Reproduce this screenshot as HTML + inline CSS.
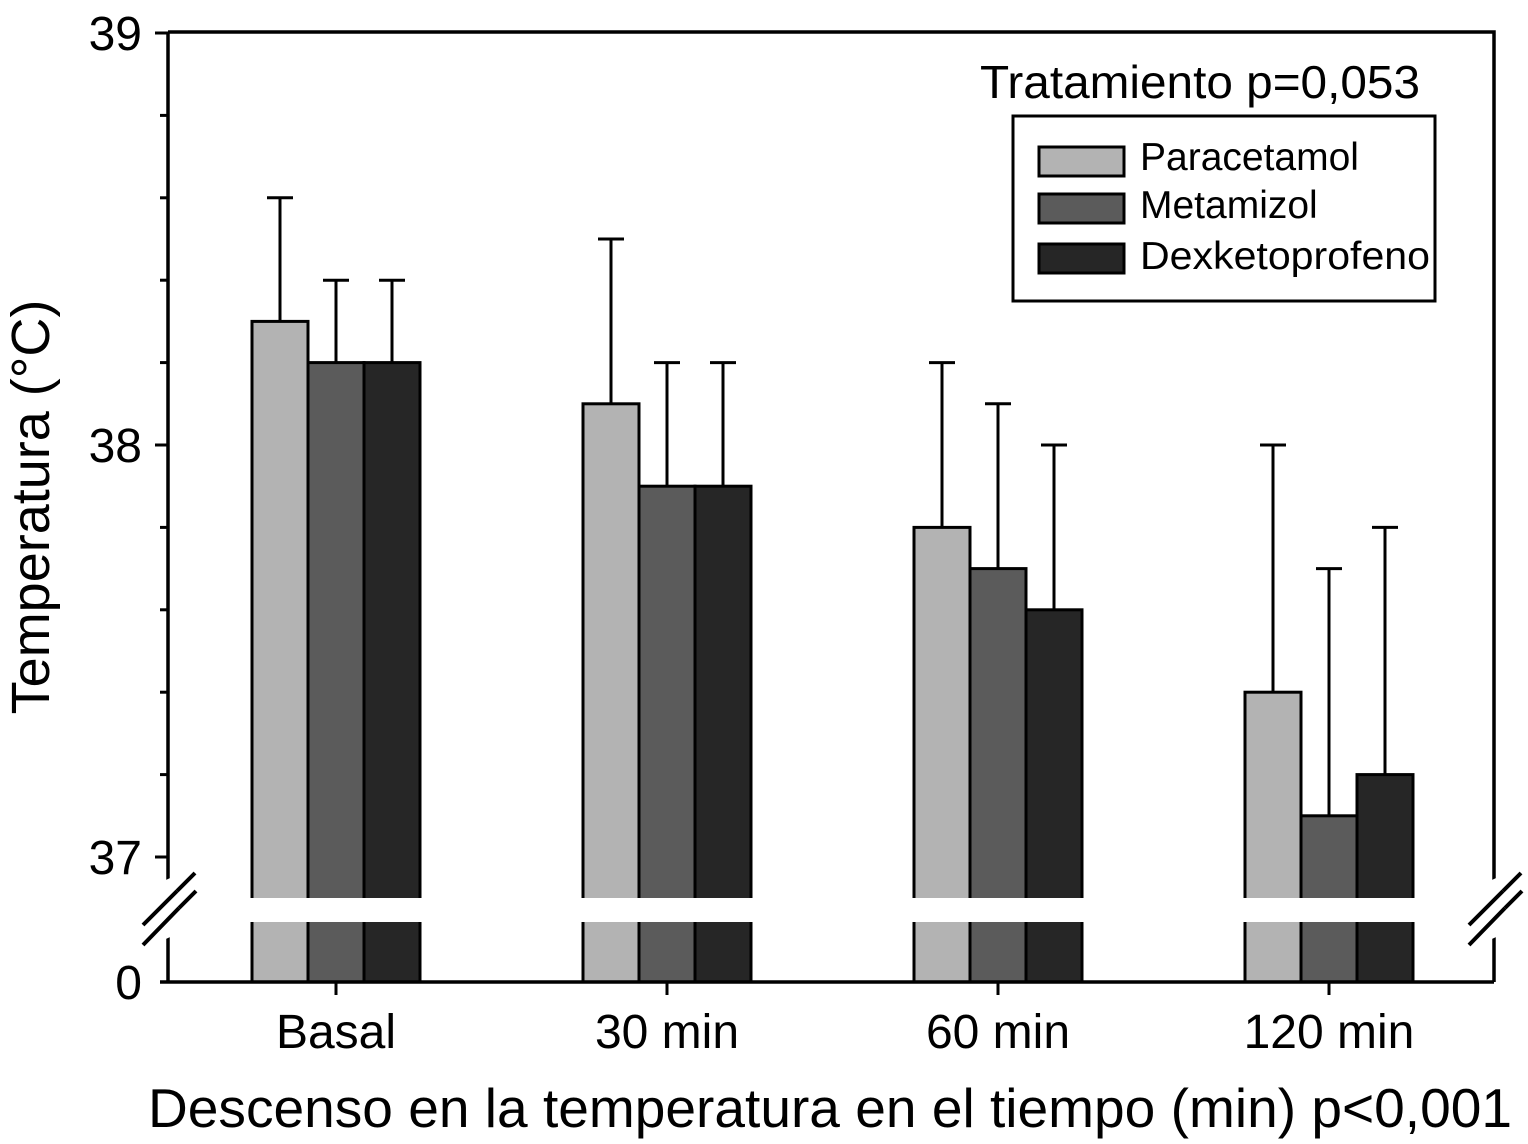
<!DOCTYPE html>
<html><head><meta charset="utf-8"><style>
body{margin:0;background:#fff}
svg text{font-family:"Liberation Sans",sans-serif;fill:#000}
</style></head><body>
<svg id="chart" width="1528" height="1139" viewBox="0 0 1528 1139" xmlns="http://www.w3.org/2000/svg">
<g id="bars"></g>
<g id="axes"></g>
<text x="980" y="98" font-size="46" textLength="440" lengthAdjust="spacingAndGlyphs">Tratamiento p=0,053</text>
<g>
<rect x="1013" y="116" width="422" height="185" fill="#fff" stroke="#000" stroke-width="3"/>
<rect x="1039" y="147" width="85" height="29" fill="#b3b3b3" stroke="#000" stroke-width="3"/>
<rect x="1039" y="194" width="85" height="29" fill="#5b5b5b" stroke="#000" stroke-width="3"/>
<rect x="1039" y="244" width="85" height="29" fill="#262626" stroke="#000" stroke-width="3"/>
<text x="1140" y="170" font-size="39">Paracetamol</text>
<text x="1140" y="218" font-size="39">Metamizol</text>
<text x="1140" y="269" font-size="39" textLength="290" lengthAdjust="spacingAndGlyphs">Dexketoprofeno</text>
</g>
<text transform="translate(49,507) rotate(-90)" text-anchor="middle" font-size="54">Temperatura (°C)</text>
<text x="830" y="1127" text-anchor="middle" font-size="55" textLength="1364" lengthAdjust="spacingAndGlyphs">Descenso en la temperatura en el tiempo (min) p&lt;0,001</text>
</svg>
<script>
const categories=["Basal","30 min","60 min","120 min"];
const series=["Paracetamol","Metamizol","Dexketoprofeno"];
const paracetamol=[38.3,38.1,37.8,37.4];
const metamizol=[38.2,37.9,37.7,37.1];
const dexketoprofeno=[38.2,37.9,37.6,37.2];
const errParacetamol=[38.6,38.5,38.2,38.0];
const errMetamizol=[38.4,38.2,38.1,37.7];
const errDexketoprofeno=[38.4,38.2,38.0,37.8];
const yTicks=[37,38,39];
const NS="http://www.w3.org/2000/svg";
const fills=["#b3b3b3","#5b5b5b","#262626"];
const vals=[paracetamol,metamizol,dexketoprofeno];
const errs=[errParacetamol,errMetamizol,errDexketoprofeno];
const L=168,R=1494,T=32,B=982;
function y(v){return 857-(v-37)*412;}
function xc(i){return 336+i*331;}
const barW=56;
function mk(tag,attrs,parent){const e=document.createElementNS(NS,tag);for(const k in attrs)e.setAttribute(k,attrs[k]);parent.appendChild(e);return e;}
const gb=document.getElementById('bars'),ga=document.getElementById('axes');
categories.forEach((c,i)=>{
  series.forEach((s,j)=>{
    const x0=xc(i)-1.5*barW+j*barW, yt=y(vals[j][i]);
    const ey=y(errs[j][i]);
    const eb=mk('line',{x1:x0+barW/2,x2:x0+barW/2,y1:ey,y2:yt,stroke:'#000','stroke-width':3},gb);
    
    
    const cap=mk('line',{x1:x0+barW/2-13,x2:x0+barW/2+13,y1:ey,y2:ey,stroke:'#000','stroke-width':3},gb);
    
    
    const r=mk('rect',{x:x0,y:yt,width:barW,height:905-yt,fill:fills[j],stroke:'#000','stroke-width':3},gb);
    
    
    const r2=mk('rect',{x:x0,y:915,width:barW,height:B-915,fill:fills[j],stroke:'#000','stroke-width':3},gb);
    
    
  });
  const gap=mk('rect',{x:xc(i)-1.5*barW-3,y:898,width:3*barW+6,height:24,fill:'#fff'},gb);
  
  
  const tk=mk('line',{x1:xc(i),x2:xc(i),y1:B,y2:B+13,stroke:'#000','stroke-width':3},ga);
  
  
  const tl=mk('text',{x:xc(i),y:1048,'text-anchor':'middle','font-size':48},ga);
  tl.textContent=c;
  
  
});
const sp=mk('path',{d:`M${L},${T}H${R}V${B}M${L},${T}V${B}M${L-8},${B}H${R}`,fill:'none',stroke:'#000','stroke-width':3.5},ga);


for(let v=37;v<=39.001;v+=0.2){
  const major=Math.abs(v-Math.round(v))<1e-6;
  const t=mk('line',{x1:L-(major?13:8),x2:L,y1:y(v),y2:y(v),stroke:'#000','stroke-width':3},ga);
  
  
}
yTicks.forEach(v=>{
  const t=mk('text',{x:142,y:y(v)+17,'text-anchor':'end','font-size':48},ga);
  t.textContent=v;
  
  
});
const z=mk('text',{x:142,y:B+17,'text-anchor':'end','font-size':48},ga);
z.textContent='0';


[L,R].forEach(x=>{
  const w=mk('path',{d:`M${x-24},${890}L${x+24},${868}V${927}L${x-24},${949}Z`,fill:'#fff'},ga);
  
  
  const s=mk('path',{d:`M${x-25},${925}L${x+9},${891}M${x-25},${945}L${x+11},${908}`,stroke:'#000','stroke-width':4},ga);
  
  
  const s2=mk('path',{d:`M${x+9},${891}L${x+27},${873}M${x+11},${908}L${x+28},${891}`,stroke:'#000','stroke-width':4},ga);
  
  
});
</script>
</body></html>
